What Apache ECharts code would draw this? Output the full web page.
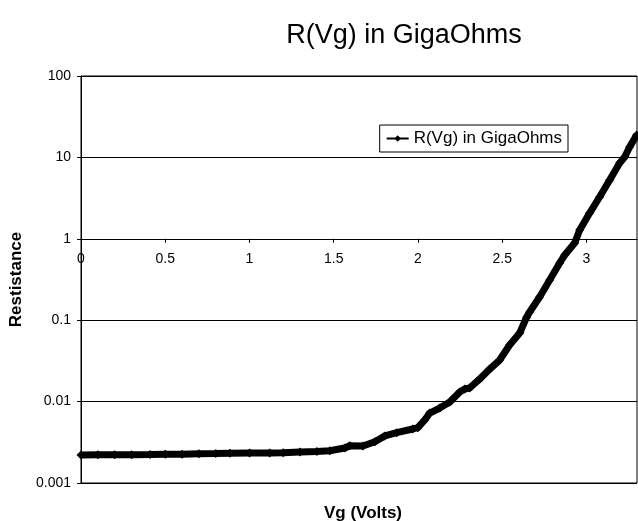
<!DOCTYPE html>
<html lang="en">
<head>
<meta charset="utf-8">
<title>R(Vg) in GigaOhms</title>
<style>
  html, body { margin: 0; padding: 0; background: #fff; }
  #chart { width: 638px; height: 521px; }
</style>
</head>
<body>
<div id="chart"></div>
<script src="https://cdn.jsdelivr.net/npm/echarts@6/dist/echarts.min.js"></script>
<script>
// gate voltage (V)
var vg = [0, 0.1, 0.2, 0.3, 0.41, 0.5, 0.6, 0.7, 0.8, 0.884, 1.0, 1.12, 1.2, 1.30, 1.4, 1.477,
  1.566, 1.595, 1.673, 1.744, 1.803, 1.874, 1.969, 1.999, 2.040, 2.070, 2.129, 2.189, 2.248,
  2.278, 2.307, 2.367, 2.426, 2.485, 2.544, 2.604, 2.645, 2.663, 2.722, 2.782, 2.841, 2.871,
  2.930, 2.960, 3.019, 3.078, 3.138, 3.197, 3.227, 3.256, 3.298];
// resistance in GigaOhms
var res = [0.00221, 0.00222, 0.00222, 0.00223, 0.00224, 0.00225, 0.00226, 0.00228, 0.0023, 0.00232,
  0.00233, 0.00234, 0.00236, 0.0024, 0.00244, 0.00249,
  0.00269, 0.00287, 0.00285, 0.00321, 0.00378, 0.00415, 0.00461, 0.00478, 0.00594, 0.00724,
  0.00834, 0.00988, 0.0131, 0.0143, 0.0147, 0.0190, 0.0251, 0.0324, 0.0496, 0.0696, 0.109,
  0.126, 0.193, 0.312, 0.505, 0.632, 0.887, 1.28, 2.07, 3.26, 5.28, 8.53, 10.1, 13.4, 18.8];
var xTicks = [0, 0.5, 1, 1.5, 2, 2.5, 3];
var yTickLabels = ['0.001', '0.01', '0.1', '1', '10', '100'];

var font = 'Liberation Sans, Arial, sans-serif';
var myChart = echarts.init(document.getElementById('chart'));

var points = [];
for (var i = 0; i < vg.length; i++) {
  points.push([vg[i], res[i]]);
}

var option = {
  animation: false,
  backgroundColor: '#fff',
  title: [
    {
      text: 'R(Vg) in GigaOhms',
      left: 399, top: 17, textAlign: 'center',
      textStyle: { fontFamily: font, fontSize: 27, fontWeight: 'normal', color: '#000' }
    },
    {
      text: 'Vg (Volts)',
      left: 358, top: 500, textAlign: 'center',
      textStyle: { fontFamily: font, fontSize: 17, fontWeight: 'bold', color: '#000' }
    }
  ],
  legend: {
    right: 70, top: 125,
    padding: [5, 6],
    borderColor: '#000', borderWidth: 1,
    backgroundColor: '#fff',
    itemWidth: 22, itemHeight: 8, itemGap: 4,
    textStyle: { fontFamily: font, fontSize: 17, color: '#000' },
    data: ['R(Vg) in GigaOhms']
  },
  grid: {
    left: 81, right: 1, top: 76, bottom: 38,
    show: true, borderColor: '#000', borderWidth: 1
  },
  xAxis: {
    type: 'value', min: 0, max: 3.3,
    offset: -244.2,
    axisLine: { onZero: false, lineStyle: { color: '#000', width: 1 } },
    axisTick: { show: true, length: 4, customValues: xTicks, lineStyle: { color: '#000' } },
    axisLabel: { customValues: xTicks, margin: 13, fontFamily: font, fontSize: 14, color: '#000' },
    splitLine: { show: false }
  },
  yAxis: {
    type: 'log', logBase: 10, min: 0.001, max: 100,
    name: 'Restistance', nameLocation: 'middle', nameRotate: 90, nameGap: 56,
    nameTextStyle: { fontFamily: font, fontSize: 17, fontWeight: 'bold', color: '#000' },
    axisLine: { show: true, lineStyle: { color: '#000', width: 1 } },
    axisTick: { show: true, length: 4, lineStyle: { color: '#000' } },
    axisLabel: {
      margin: 10, fontFamily: font, fontSize: 14, color: '#000',
      formatter: function (v) { return yTickLabels[Math.round(Math.log10(v)) + 3]; }
    },
    minorTick: { show: false },
    splitLine: { show: true, lineStyle: { color: '#000', width: 1 } }
  },
  series: [
    {
      name: 'R(Vg) in GigaOhms',
      type: 'line',
      data: points,
      symbol: 'diamond',
      symbolSize: 9,
      showAllSymbol: true,
      itemStyle: { color: '#000' },
      lineStyle: { color: '#000', width: 7 }
    }
  ]
};
myChart.setOption(option);
</script>
</body>
</html>
